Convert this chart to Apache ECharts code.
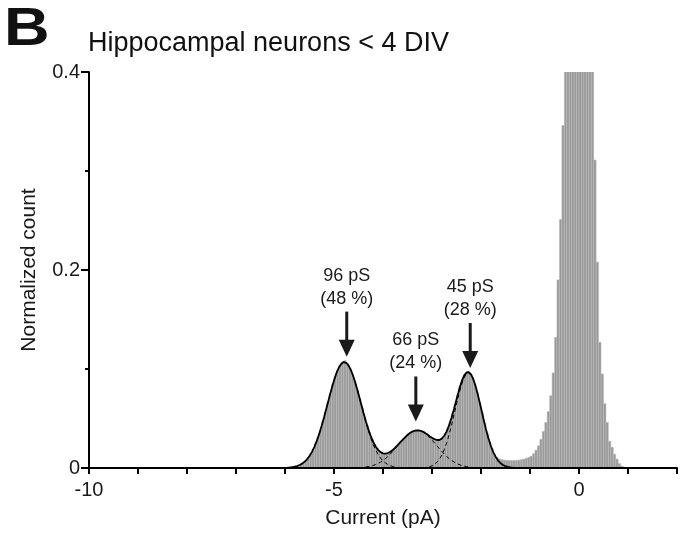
<!DOCTYPE html>
<html><head><meta charset="utf-8">
<script src="https://cdn.jsdelivr.net/npm/echarts@6/dist/echarts.min.js"></script>
<style>html,body{margin:0;padding:0;background:#fff}#c{width:685px;height:538px}</style>
</head><body><div id="c"></div>
<script>
// ---- data ----
const binStart = -6.0;
const binWidth = 0.05;
const histCounts = [
  0.0005,0.0008,0.0012,0.0015,0.0020,0.0028,0.0040,0.0055,0.0078,0.0105,
  0.0140,0.0190,0.0245,0.0310,0.0385,0.0470,0.0565,0.0660,0.0750,0.0845,
  0.0925,0.0990,0.1040,0.1075,0.1085,0.1055,0.1010,0.0950,0.0875,0.0790,
  0.0700,0.0605,0.0515,0.0430,0.0355,0.0290,0.0238,0.0198,0.0170,0.0152,
  0.0145,0.0148,0.0158,0.0172,0.0193,0.0218,0.0245,0.0272,0.0298,0.0322,
  0.0345,0.0362,0.0375,0.0382,0.0384,0.0376,0.0365,0.0350,0.0332,0.0314,
  0.0298,0.0287,0.0283,0.0290,0.0310,0.0348,0.0400,0.0470,0.0555,0.0645,
  0.0740,0.0825,0.0900,0.0950,0.0975,0.0960,0.0918,0.0850,0.0760,0.0660,
  0.0555,0.0450,0.0350,0.0265,0.0195,0.0140,0.0110,0.0092,0.0085,0.0080,
  0.0078,0.0076,0.0075,0.0076,0.0078,0.0080,0.0084,0.0090,0.0098,0.0108,
  0.0120,0.0145,0.0180,0.0225,0.0290,0.0370,0.0460,0.0570,0.0730,0.0960,
  0.1320,0.1900,0.2510,0.3460,0.43,0.50,0.56,0.61,0.64,0.66,
  0.65,0.62,0.58,0.52,0.46,0.41,0.3110,0.2080,0.1270,0.0950,
  0.0650,0.0460,0.0270,0.0210,0.0140,0.0090,0.0045,0.0020,0.0010,0.0005
];
const fitSum = [
  [-5.95,0.0003],[-5.9,0.0005],[-5.85,0.0008],[-5.8,0.0013],[-5.75,0.0020],[-5.7,0.0030],[-5.65,0.0044],
  [-5.6,0.0063],[-5.55,0.0088],[-5.5,0.0121],[-5.45,0.0163],[-5.4,0.0214],[-5.35,0.0276],[-5.3,0.0347],
  [-5.25,0.0429],[-5.2,0.0517],[-5.15,0.0611],[-5.1,0.0706],[-5.05,0.0799],[-5.0,0.0884],[-4.95,0.0958],
  [-4.9,0.1015],[-4.85,0.1054],[-4.8,0.1070],[-4.75,0.1063],[-4.7,0.1033],[-4.65,0.0983],[-4.6,0.0917],
  [-4.55,0.0836],[-4.5,0.0747],[-4.45,0.0654],[-4.4,0.0561],[-4.35,0.0473],[-4.3,0.0393],[-4.25,0.0323],
  [-4.2,0.0263],[-4.15,0.0217],[-4.1,0.0183],[-4.05,0.0160],[-4.0,0.0148],[-3.95,0.0146],[-3.9,0.0151],
  [-3.85,0.0164],[-3.8,0.0182],[-3.75,0.0205],[-3.7,0.0231],[-3.65,0.0258],[-3.6,0.0285],[-3.55,0.0310],
  [-3.5,0.0333],[-3.45,0.0353],[-3.4,0.0368],[-3.35,0.0377],[-3.3,0.0381],[-3.25,0.0378],[-3.2,0.0370],
  [-3.15,0.0357],[-3.1,0.0341],[-3.05,0.0322],[-3.0,0.0305],[-2.95,0.0291],[-2.9,0.0283],[-2.85,0.0283],
  [-2.8,0.0297],[-2.75,0.0326],[-2.7,0.0370],[-2.65,0.0433],[-2.6,0.0510],[-2.55,0.0599],[-2.5,0.0693],
  [-2.45,0.0784],[-2.4,0.0865],[-2.35,0.0928],[-2.3,0.0963],[-2.25,0.0969],[-2.2,0.0944],[-2.15,0.0888],
  [-2.1,0.0808],[-2.05,0.0711],[-2.0,0.0606],[-1.95,0.0497],[-1.9,0.0395],[-1.85,0.0303],[-1.8,0.0225],
  [-1.75,0.0161],[-1.7,0.0112],[-1.65,0.0075],[-1.6,0.0048],[-1.55,0.0030],[-1.5,0.0018],[-1.45,0.0011],
  [-1.4,0.0006],[-1.35,0.0003],[-1.3,0.0002],[-1.25,0.0001]
];
const fitG1 = [
  [-4.6,0.0915],[-4.55,0.0834],[-4.5,0.0744],[-4.45,0.0649],[-4.4,0.0554],[-4.35,0.0463],[-4.3,0.0379],
  [-4.25,0.0303],[-4.2,0.0237],[-4.15,0.0182],[-4.1,0.0137],[-4.05,0.0100],[-4.0,0.0072],[-3.95,0.0051],
  [-3.9,0.0035],[-3.85,0.0023],[-3.8,0.0015],[-3.75,0.0010],[-3.7,0.0006],[-3.65,0.0004],[-3.6,0.0002],[-3.55,0.0001]
];
const fitG2 = [
  [-4.5,0.0003],[-4.45,0.0005],[-4.4,0.0007],[-4.35,0.0010],[-4.3,0.0014],[-4.25,0.0020],[-4.2,0.0026],
  [-4.15,0.0035],[-4.1,0.0046],[-4.05,0.0060],[-4.0,0.0076],[-3.95,0.0095],[-3.9,0.0116],[-3.85,0.0141],
  [-3.8,0.0167],[-3.75,0.0195],[-3.7,0.0225],[-3.65,0.0254],[-3.6,0.0283],[-3.55,0.0309],[-3.5,0.0333],
  [-3.45,0.0353],[-3.4,0.0368],[-3.35,0.0377],[-3.3,0.0380],[-3.25,0.0377],[-3.2,0.0368],[-3.15,0.0353],
  [-3.1,0.0333],[-3.05,0.0309],[-3.0,0.0283],[-2.95,0.0254],[-2.9,0.0225],[-2.85,0.0195],[-2.8,0.0167],
  [-2.75,0.0141],[-2.7,0.0116],[-2.65,0.0095],[-2.6,0.0076],[-2.55,0.0060],[-2.5,0.0046],[-2.45,0.0035],
  [-2.4,0.0026],[-2.35,0.0020],[-2.3,0.0014],[-2.25,0.0010],[-2.2,0.0007],[-2.15,0.0005],[-2.1,0.0003]
];
const fitG3 = [
  [-3.2,0.0002],[-3.15,0.0004],[-3.1,0.0008],[-3.05,0.0013],[-3.0,0.0022],[-2.95,0.0037],[-2.9,0.0058],
  [-2.85,0.0088],[-2.8,0.0130],[-2.75,0.0185],[-2.7,0.0254],[-2.65,0.0338],[-2.6,0.0434],[-2.55,0.0539],
  [-2.5,0.0647],[-2.45,0.0749],[-2.4,0.0839],[-2.35,0.0908],[-2.3,0.0949],[-2.25,0.0959],[-2.2,0.0937]
];
const annX = [-4.74, -3.33, -2.22];
const annY = [0.1125, 0.047, 0.101];
const annLine1 = ['96 pS', '66 pS', '45 pS'];
const annLine2 = ['(48 %)', '(24 %)', '(28 %)'];
const xTickLabels = ['-10', '-5', '0'];
const yTickLabels = ['0', '0.2', '0.4'];

// ---- chart ----
const FONT = '"Liberation Sans", Arial, Helvetica, sans-serif';
const INK = '#1a1a1a';
const chart = echarts.init(document.getElementById('c'), null, {renderer: 'canvas'});

const histData = histCounts.map((v, i) => [binStart + i * binWidth, binStart + (i + 1) * binWidth, v]);
const annData = annX.map((x, i) => [x, annY[i]]);

chart.setOption({
  animation: false,
  backgroundColor: '#fff',
  grid: {left: 89, right: 8, top: 72, bottom: 70, containLabel: false},
  graphic: [
    {type: 'text', left: 4, top: 3, scaleX: 1.17, style: {text: 'B', font: 'bold 54px ' + FONT, fill: '#111'}},
    {type: 'text', left: 88, top: 30, style: {text: 'Hippocampal neurons < 4 DIV', font: '27px ' + FONT, fill: '#111'}}
  ],
  xAxis: {
    type: 'value', min: -10, max: 2, interval: 1, z: 10,
    name: 'Current (pA)', nameLocation: 'middle', nameGap: 40,
    nameTextStyle: {fontSize: 21, fontFamily: FONT, color: INK},
    axisLine: {show: true, onZero: false, lineStyle: {color: '#000', width: 2}},
    axisTick: {show: true, length: 6, lineStyle: {color: '#000', width: 2}},
    axisLabel: {
      fontSize: 20, fontFamily: FONT, color: INK, margin: 12,
      formatter: v => (xTickLabels.indexOf(String(v)) >= 0 ? String(v) : '')
    },
    splitLine: {show: false}
  },
  yAxis: {
    type: 'value', min: 0, max: 0.4, interval: 0.2, z: 10,
    name: 'Normalized count', nameLocation: 'middle', nameGap: 49, nameRotate: 90,
    nameTextStyle: {fontSize: 21, fontFamily: FONT, color: INK},
    axisLine: {show: true, onZero: false, lineStyle: {color: '#000', width: 2}},
    axisTick: {show: true, length: 8, lineStyle: {color: '#000', width: 2}},
    minorTick: {show: true, splitNumber: 2, length: 4, lineStyle: {color: '#000', width: 2}},
    axisLabel: {
      fontSize: 20, fontFamily: FONT, color: INK, margin: 9,
      formatter: v => { const s = String(Math.round(v * 10) / 10); return yTickLabels.indexOf(s) >= 0 ? s : ''; }
    },
    splitLine: {show: false}
  },
  series: [
    {
      type: 'custom', name: 'hist', clip: true, z: 2,
      data: histData,
      encode: {x: [0, 1], y: 2},
      renderItem: (params, api) => {
        const p0 = api.coord([api.value(0), api.value(2)]);
        const p1 = api.coord([api.value(1), 0]);
        return {
          type: 'rect',
          shape: {x: p0[0], y: p0[1], width: p1[0] - p0[0], height: p1[1] - p0[1]},
          style: {fill: '#9a9a9a', stroke: '#bdbdbd', lineWidth: 0.5}
        };
      }
    },
    {type: 'line', data: fitG1, symbol: 'none', z: 3, lineStyle: {color: '#000', width: 1, type: [4, 3]}},
    {type: 'line', data: fitG2, symbol: 'none', z: 3, lineStyle: {color: '#000', width: 1, type: [4, 3]}},
    {type: 'line', data: fitG3, symbol: 'none', z: 3, lineStyle: {color: '#000', width: 1, type: [4, 3]}},
    {type: 'line', data: fitSum, symbol: 'none', z: 4, lineStyle: {color: '#000', width: 1.8}},
    {
      type: 'custom', name: 'ann', z: 6, clip: false,
      data: annData,
      renderItem: (params, api) => {
        const p = api.coord([api.value(0), api.value(1)]);
        const i = params.dataIndex;
        return {
          type: 'group',
          children: [
            {type: 'line', shape: {x1: p[0], y1: p[1] - 45, x2: p[0], y2: p[1] - 14}, style: {stroke: INK, lineWidth: 3}},
            {type: 'polygon', shape: {points: [[p[0] - 8, p[1] - 17], [p[0] + 8, p[1] - 17], [p[0], p[1]]]}, style: {fill: INK}},
            {type: 'text', style: {text: annLine1[i], x: p[0], y: p[1] - 81, align: 'center', verticalAlign: 'middle', font: '18px ' + FONT, fill: INK}},
            {type: 'text', style: {text: annLine2[i], x: p[0], y: p[1] - 58, align: 'center', verticalAlign: 'middle', font: '18px ' + FONT, fill: INK}}
          ]
        };
      }
    }
  ]
});
</script>
</body></html>
